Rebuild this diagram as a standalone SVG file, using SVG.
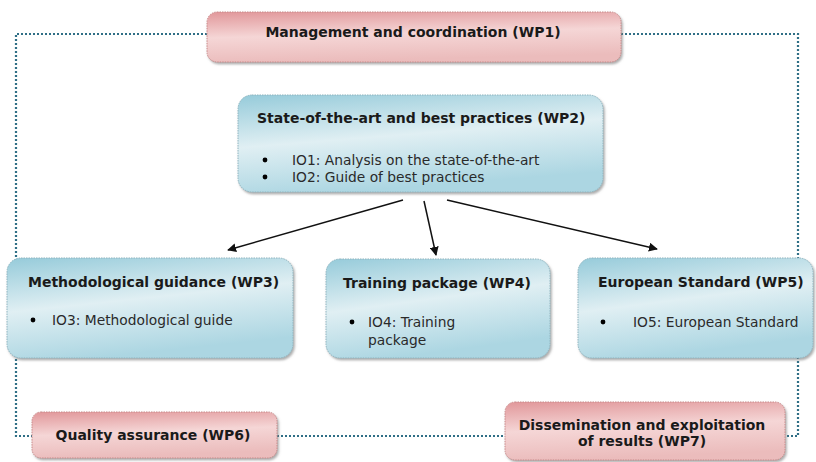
<svg xmlns="http://www.w3.org/2000/svg" width="816" height="462" viewBox="0 0 816 462">
<style>
.t{font-family:"DejaVu Sans","Verdana",sans-serif;font-weight:bold;font-size:14px;fill:#1a1a1a}
.b{font-family:"DejaVu Sans","Verdana",sans-serif;font-size:13.8px;fill:#2a2a2a}
.blue{fill:url(#gb);stroke:#8fb4bf;stroke-width:1;stroke-dasharray:1.5 1;filter:url(#sh)}
.pink{fill:url(#gp);stroke:#c88a8a;stroke-width:1;stroke-dasharray:1.5 1;filter:url(#sh)}
.dot{fill:none;stroke:#2f6f86;stroke-width:2.2;stroke-dasharray:2 2}
.arr{stroke:#111;stroke-width:1.5;fill:none;marker-end:url(#ah)}
</style>
<defs>
<linearGradient id="gb" x1="0" y1="0" x2="0.3" y2="1">
<stop offset="0" stop-color="#96cbda"/>
<stop offset="0.5" stop-color="#e0eff3"/>
<stop offset="1" stop-color="#acd6e2"/>
</linearGradient>
<linearGradient id="gp" x1="0" y1="0" x2="0.2" y2="1">
<stop offset="0" stop-color="#e1979a"/>
<stop offset="0.5" stop-color="#f5d6d6"/>
<stop offset="1" stop-color="#ebbcbc"/>
</linearGradient>
<filter id="sh" x="-5%" y="-10%" width="110%" height="125%">
<feDropShadow dx="1.5" dy="2" stdDeviation="1.2" flood-color="#777" flood-opacity="0.6"/>
</filter>
<marker id="ah" viewBox="0 0 10 10" refX="9" refY="5" markerWidth="9" markerHeight="9" orient="auto" markerUnits="userSpaceOnUse">
<path d="M0,0 L10,5 L0,10 z" fill="#111"/>
</marker>
</defs>
<g id="connectors">
<path class="dot" d="M207,34 H16 V436 H32"/>
<path class="dot" d="M621,34 H798 V436 H785"/>
<path class="dot" d="M277,436 H505"/>
<line class="arr" x1="403" y1="200" x2="228" y2="250"/>
<line class="arr" x1="424" y1="201" x2="436" y2="255"/>
<line class="arr" x1="447" y1="200" x2="657" y2="249"/>
</g>
<g id="wp1">
<rect class="pink" x="207" y="12" width="414" height="50" rx="10"/>
<text class="t" x="413" y="37" text-anchor="middle">Management and coordination (WP1)</text>
</g>
<g id="wp2">
<rect class="blue" x="238" y="95" width="365" height="97" rx="14"/>
<text class="t" x="257" y="123">State-of-the-art and best practices (WP2)</text>
<circle cx="265" cy="160" r="2.4"/>
<text class="b" x="292" y="165">IO1: Analysis on the state-of-the-art</text>
<circle cx="265" cy="177" r="2.4"/>
<text class="b" x="292" y="182">IO2: Guide of best practices</text>
</g>
<g id="wp3">
<rect class="blue" x="7" y="258" width="286" height="100" rx="14"/>
<text class="t" x="28" y="287">Methodological guidance (WP3)</text>
<circle cx="33" cy="320" r="2.4"/>
<text class="b" x="52" y="325">IO3: Methodological guide</text>
</g>
<g id="wp4">
<rect class="blue" x="326" y="259" width="224" height="99" rx="14"/>
<text class="t" x="343" y="288">Training package (WP4)</text>
<circle cx="352" cy="322" r="2.4"/>
<text class="b" x="368" y="327">IO4: Training</text>
<text class="b" x="368" y="345">package</text>
</g>
<g id="wp5">
<rect class="blue" x="578" y="258" width="235" height="100" rx="14"/>
<text class="t" x="598" y="287">European Standard (WP5)</text>
<circle cx="603" cy="322" r="2.4"/>
<text class="b" x="633" y="327">IO5: European Standard</text>
</g>
<g id="wp6">
<rect class="pink" x="32" y="412" width="245" height="46" rx="9"/>
<text class="t" x="153" y="440" text-anchor="middle">Quality assurance (WP6)</text>
</g>
<g id="wp7">
<rect class="pink" x="505" y="402" width="280" height="58" rx="10"/>
<text class="t" x="642" y="430" text-anchor="middle">Dissemination and exploitation</text>
<text class="t" x="642" y="446" text-anchor="middle">of results (WP7)</text>
</g>
</svg>
